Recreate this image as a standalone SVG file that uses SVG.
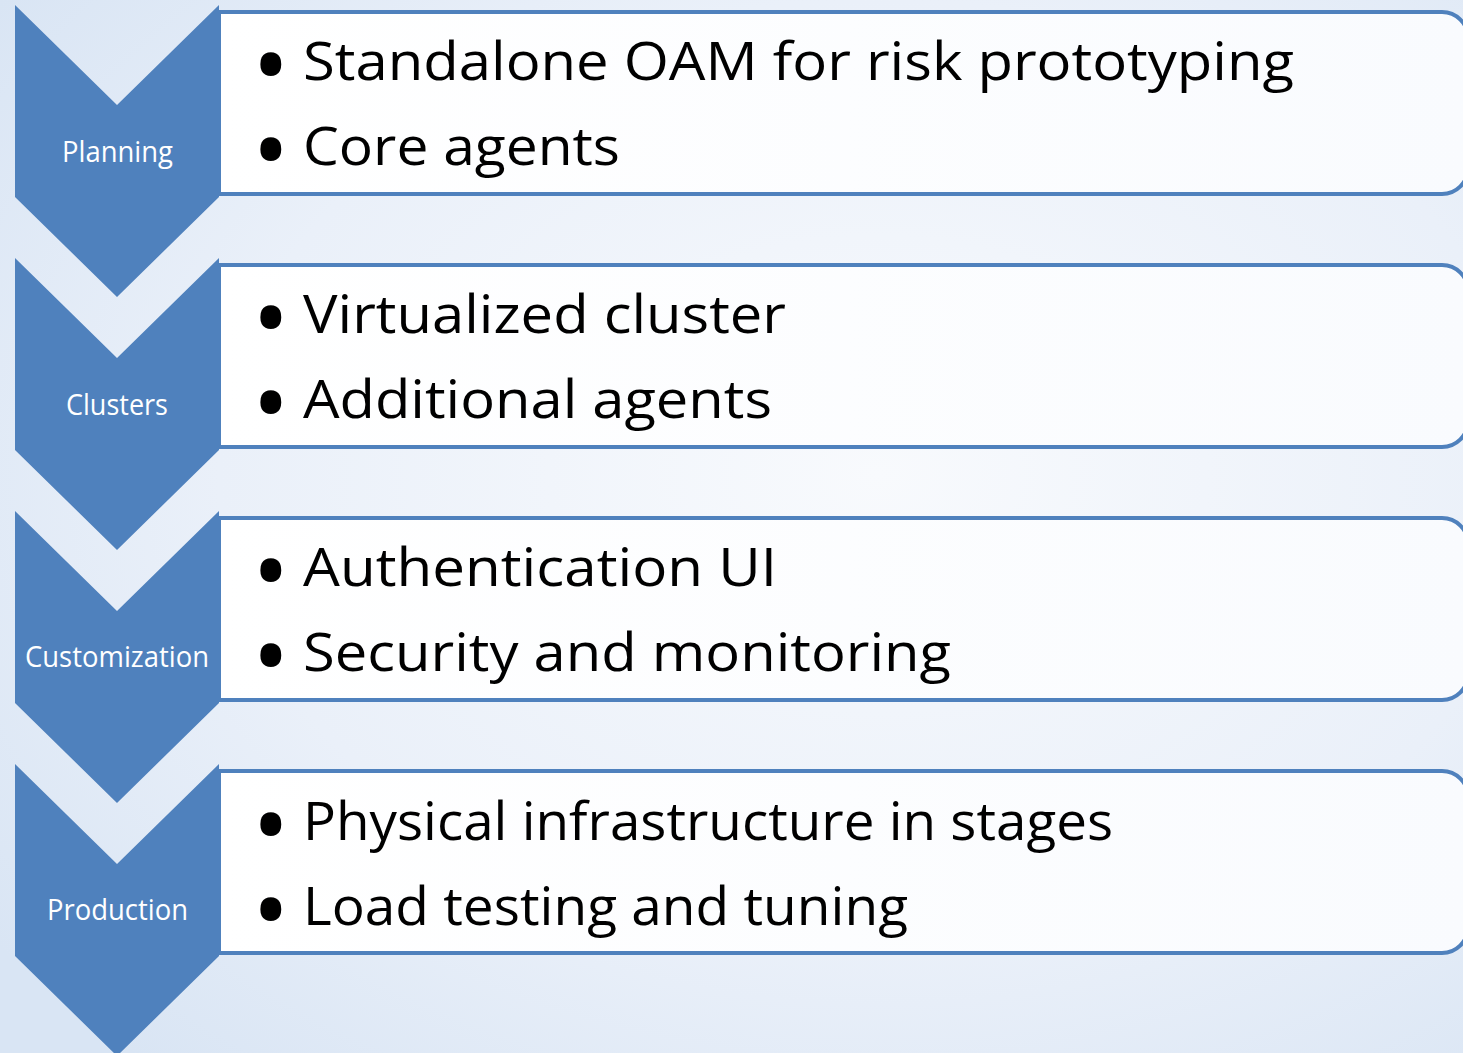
<svg xmlns="http://www.w3.org/2000/svg" width="1463" height="1053" viewBox="0 0 1463 1053">
<defs>
<radialGradient id="bg" cx="0.6" cy="0.45" r="0.75">
<stop offset="0" stop-color="#f8fafd"/>
<stop offset="0.6" stop-color="#eaf0f9"/>
<stop offset="1" stop-color="#d9e5f4"/>
</radialGradient>
<linearGradient id="boxfill" x1="0" y1="0" x2="1" y2="0">
<stop offset="0" stop-color="#ffffff"/>
<stop offset="1" stop-color="#f9fbfe"/>
</linearGradient>
<style>
.box{fill:url(#boxfill);stroke:#4f81bd;stroke-width:4}
.chev{fill:#4f81bd}
.lbl{font-family:"Open Sans","Noto Sans",sans-serif;font-size:29px;fill:#ffffff;text-anchor:middle}
.txt{font-family:"Open Sans","Noto Sans",sans-serif;font-size:53px;fill:#000000}
.bul{font-family:"Open Sans","Noto Sans",sans-serif;font-size:100px;fill:#000000}
</style>
</defs>
<rect width="1463" height="1053" fill="url(#bg)"/>
<g id="step1">
<path class="box" d="M219,12 H1442 A26,26 0 0 1 1468,38 V168 A26,26 0 0 1 1442,194 H219 Z"/>
<path class="chev" d="M15,5 L117,105 L219,5 L219,197 L117,297 L15,197 Z"/>
<text class="lbl" x="117.5" y="162" textLength="111" lengthAdjust="spacingAndGlyphs">Planning</text>
<text class="bul" x="252" y="101">•</text>
<text class="txt" x="303" y="80" textLength="991" lengthAdjust="spacingAndGlyphs">Standalone OAM for risk prototyping</text>
<text class="bul" x="252" y="186">•</text>
<text class="txt" x="303" y="165" textLength="317" lengthAdjust="spacingAndGlyphs">Core agents</text>
</g>
<g id="step2">
<path class="box" d="M219,265 H1442 A26,26 0 0 1 1468,291 V421 A26,26 0 0 1 1442,447 H219 Z"/>
<path class="chev" d="M15,258 L117,358 L219,258 L219,450 L117,550 L15,450 Z"/>
<text class="lbl" x="117" y="415" textLength="102" lengthAdjust="spacingAndGlyphs">Clusters</text>
<text class="bul" x="252" y="354">•</text>
<text class="txt" x="303" y="333" textLength="483" lengthAdjust="spacingAndGlyphs">Virtualized cluster</text>
<text class="bul" x="252" y="439">•</text>
<text class="txt" x="303" y="418" textLength="469" lengthAdjust="spacingAndGlyphs">Additional agents</text>
</g>
<g id="step3">
<path class="box" d="M219,518 H1442 A26,26 0 0 1 1468,544 V674 A26,26 0 0 1 1442,700 H219 Z"/>
<path class="chev" d="M15,511 L117,611 L219,511 L219,703 L117,803 L15,703 Z"/>
<text class="lbl" x="117" y="667" textLength="184" lengthAdjust="spacingAndGlyphs">Customization</text>
<text class="bul" x="252" y="607">•</text>
<text class="txt" x="303" y="586" textLength="474" lengthAdjust="spacingAndGlyphs">Authentication UI</text>
<text class="bul" x="252" y="692">•</text>
<text class="txt" x="303" y="671" textLength="648" lengthAdjust="spacingAndGlyphs">Security and monitoring</text>
</g>
<g id="step4">
<path class="box" d="M219,771 H1442 A26,26 0 0 1 1468,797 V927 A26,26 0 0 1 1442,953 H219 Z"/>
<path class="chev" d="M15,764 L117,864 L219,764 L219,956 L117,1056 L15,956 Z"/>
<text class="lbl" x="117.5" y="920" textLength="141" lengthAdjust="spacingAndGlyphs">Production</text>
<text class="bul" x="252" y="861">•</text>
<text class="txt" x="303" y="840" textLength="810" lengthAdjust="spacingAndGlyphs">Physical infrastructure in stages</text>
<text class="bul" x="252" y="946">•</text>
<text class="txt" x="303" y="925" textLength="605" lengthAdjust="spacingAndGlyphs">Load testing and tuning</text>
</g>
<g id="connectors"/>
</svg>
